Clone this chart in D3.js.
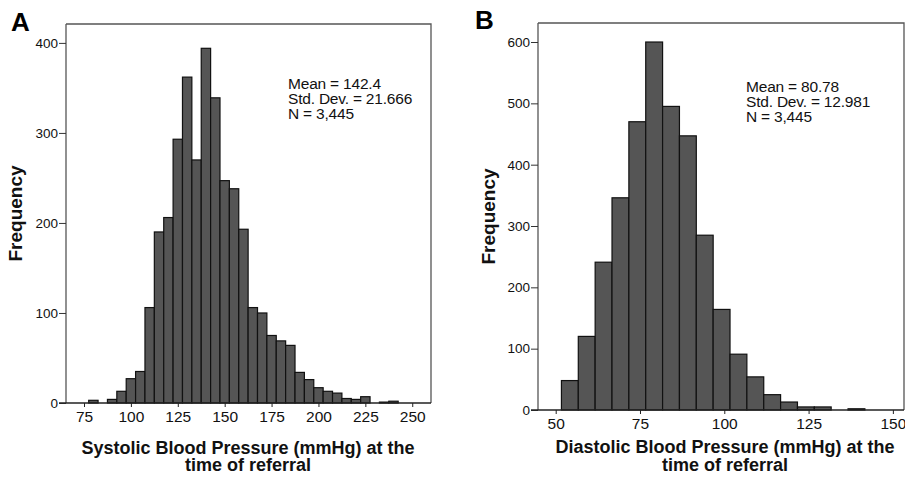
<!DOCTYPE html>
<html>
<head>
<meta charset="utf-8">
<script src="https://cdn.jsdelivr.net/npm/d3@7"></script>
<style>
  body { margin: 0; background: #fff; }
  svg { display: block; font-family: "Liberation Sans", Arial, sans-serif; }
</style>
</head>
<body>
<div id="viz"></div>
<script>
// systolic histogram, bins of 5 mmHg (lower edges)
const sbpBins = [77.5, 82.5, 87.5, 92.5, 97.5, 102.5, 107.5, 112.5, 117.5, 122.5, 127.5,
  132.5, 137.5, 142.5, 147.5, 152.5, 157.5, 162.5, 167.5, 172.5, 177.5, 182.5, 187.5,
  192.5, 197.5, 202.5, 207.5, 212.5, 217.5, 222.5, 227.5, 232.5, 237.5];
const sbpCounts = [3, 0, 4, 13, 27, 35, 106, 190, 206, 293, 362,
  270, 394, 339, 247, 238, 193, 106, 100, 75, 69, 64, 34,
  26, 17, 13, 11, 5, 4, 7, 0, 1, 2];
const sbpTicksX = [75, 100, 125, 150, 175, 200, 225, 250];
const sbpTicksY = [0, 100, 200, 300, 400];
const sbpStats = ["Mean = 142.4", "Std. Dev. = 21.666", "N = 3,445"];

// diastolic histogram
const dbpBins = [51.7, 56.7, 61.7, 66.7, 71.7, 76.7, 81.7, 86.7, 91.7, 96.7, 101.7,
  106.7, 111.7, 116.7, 121.7, 126.7, 131.7, 136.7];
const dbpCounts = [48, 120, 241, 346, 470, 600, 495, 447, 285, 164, 91,
  54, 25, 13, 5, 5, 0, 2];
const dbpTicksX = [50, 75, 100, 125, 150];
const dbpTicksY = [0, 100, 200, 300, 400, 500, 600];
const dbpStats = ["Mean = 80.78", "Std. Dev. = 12.981", "N = 3,445"];

const binWidth = 5;
const W = 905, H = 477;

const svg = d3.select('#viz').append('svg')
  .attr('width', W)
  .attr('height', H);

function panel(opt) {
  const x = d3.scaleLinear().domain(opt.xDomain).range([opt.left, opt.right]);
  const y = d3.scaleLinear().domain(opt.yDomain).range([opt.bottom, opt.top]);
  const g = svg.append('g');
  const data = opt.bins.map((b, i) => ({ x0: b, n: opt.counts[i] })).filter(d => d.n > 0);

  // frame top/right
  g.append('path')
    .attr('d', `M${opt.left},${opt.top}H${opt.right}V${opt.bottom}`)
    .attr('fill', 'none')
    .attr('stroke', '#555')
    .attr('stroke-width', 1.3);

  // bars
  g.selectAll('rect.bar').data(data)
    .enter().append('rect')
    .attr('class', 'bar')
    .attr('x', d => x(d.x0))
    .attr('width', d => x(d.x0 + binWidth) - x(d.x0))
    .attr('y', d => y(d.n))
    .attr('height', d => opt.bottom - y(d.n))
    .attr('fill', '#555555')
    .attr('stroke', '#111')
    .attr('stroke-width', 1.2);

  // y axis
  const ya = g.append('g')
    .attr('transform', `translate(${opt.left},0)`)
    .call(d3.axisLeft(y).tickValues(opt.yTicks).tickSize(7).tickPadding(1).tickSizeOuter(0));
  ya.select('.domain').attr('stroke', '#555').attr('stroke-width', 1.3)
    .attr('d', `M0,${opt.top}V${opt.bottom}`);
  ya.selectAll('.tick line').attr('stroke', '#333');
  ya.selectAll('.tick text').attr('font-size', 13.5).attr('fill', '#111')
    .attr('font-family', '"Liberation Sans", Arial, sans-serif');

  // x axis
  const xa = g.append('g')
    .attr('transform', `translate(0,${opt.bottom})`)
    .call(d3.axisBottom(x).tickValues(opt.xTicks).tickSize(4).tickPadding(4).tickSizeOuter(0));
  xa.select('.domain').attr('stroke', '#222').attr('stroke-width', 1.3)
    .attr('d', `M${opt.left - 7},0H${opt.right}`);
  xa.selectAll('.tick line').attr('stroke', '#222');
  xa.selectAll('.tick text').attr('font-size', 15.5).attr('fill', '#111')
    .attr('font-family', '"Liberation Sans", Arial, sans-serif');

  // panel letter
  g.append('text')
    .attr('x', opt.letterX).attr('y', opt.letterY)
    .attr('font-size', 26).attr('font-weight', 'bold')
    .text(opt.letter);

  // stats box
  g.append('g').selectAll('text').data(opt.stats)
    .enter().append('text')
    .attr('x', opt.statsX)
    .attr('y', (d, i) => opt.statsY + i * 15)
    .attr('font-size', 15.5)
    .attr('letter-spacing', -0.2)
    .attr('fill', '#111')
    .text(d => d);

  // axis titles
  opt.title.forEach((t, i) => {
    g.append('text')
      .attr('x', opt.titleX).attr('y', opt.titleY + i * 17.5)
      .attr('text-anchor', 'middle')
      .attr('font-size', 18).attr('font-weight', 'bold')
      .attr('fill', '#111')
      .text(t);
  });
  g.append('text')
    .attr('transform', `translate(${opt.yLabelX},${(opt.top + opt.bottom) / 2}) rotate(-90)`)
    .attr('text-anchor', 'middle')
    .attr('font-size', 19).attr('font-weight', 'bold')
    .attr('fill', '#111')
    .text('Frequency');
}

panel({
  bins: sbpBins, counts: sbpCounts, xTicks: sbpTicksX, yTicks: sbpTicksY, stats: sbpStats,
  xDomain: [65.4, 260], yDomain: [0, 421],
  left: 66, right: 431, top: 24, bottom: 403,
  letter: 'A', letterX: 11, letterY: 31,
  statsX: 288, statsY: 89,
  title: ['Systolic Blood Pressure (mmHg) at the', 'time of referral'],
  titleX: 248, titleY: 453.5, yLabelX: 22
});

panel({
  bins: dbpBins, counts: dbpCounts, xTicks: dbpTicksX, yTicks: dbpTicksY, stats: dbpStats,
  xDomain: [44.75, 153.3], yDomain: [0, 631],
  left: 538, right: 904, top: 23, bottom: 410,
  letter: 'B', letterX: 475, letterY: 29,
  statsX: 746, statsY: 92,
  title: ['Diastolic Blood Pressure (mmHg) at the', 'time of referral'],
  titleX: 725, titleY: 453, yLabelX: 495
});
</script>
</body>
</html>
